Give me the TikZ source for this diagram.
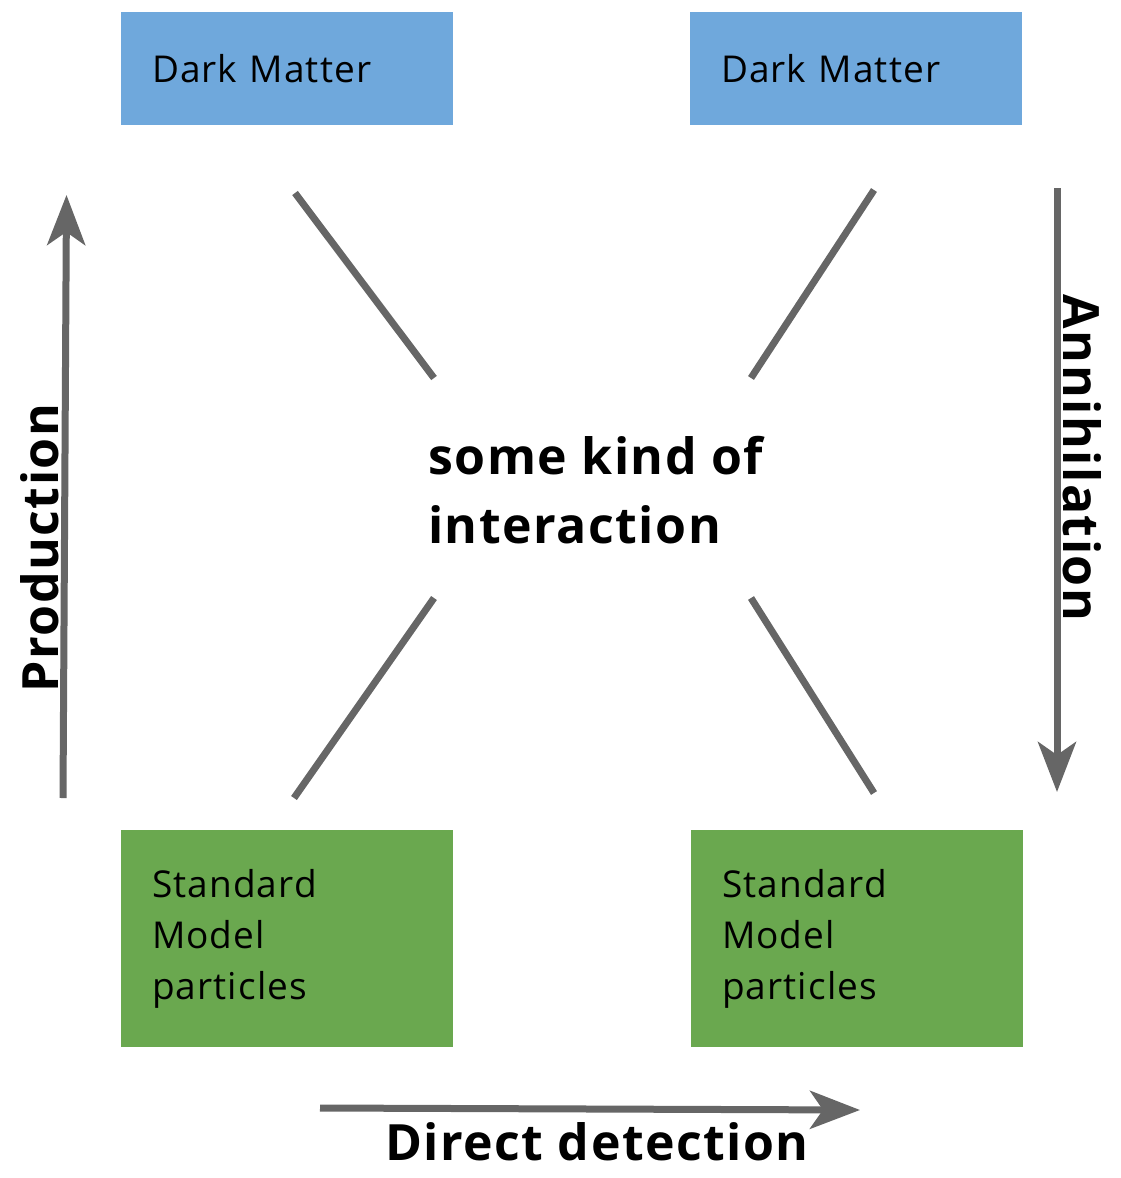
\documentclass[tikz,border=0pt]{standalone}
\usepackage{fontspec}
\setmainfont{Open Sans}[LetterSpace=3]
\usetikzlibrary{arrows.meta}
\definecolor{dmblue}{HTML}{6FA8DC}
\definecolor{smgreen}{HTML}{6AA84F}
\definecolor{linegray}{HTML}{666666}
\tikzset{
  box/.style={rectangle, draw=none, minimum width=332pt, inner xsep=31pt,
    text width=270pt, align=left, font=\fontsize{37}{51}\selectfont},
  dmbox/.style={box, fill=dmblue, minimum height=113pt},
  smbox/.style={box, fill=smgreen, minimum height=217pt},
  link/.style={draw=linegray, line width=7pt},
  flow/.style={draw=linegray, line width=7pt,
    -{Stealth[length=50pt, width=38pt, inset=13pt]}},
  biglabel/.style={font=\bfseries\fontsize{50}{69}\selectfont, inner sep=0pt}
}
\begin{document}
\begin{tikzpicture}[x=1pt, y=-1pt]
  \useasboundingbox (0,0) rectangle (1120,1178);

  % particle boxes
  \node[dmbox] (dmL) at (287,68.5) {Dark Matter};
  \node[dmbox] (dmR) at (856,68.5) {Dark Matter};
  \node[smbox] (smL) at (287,938.5) {Standard\\Model\\particles};
  \node[smbox] (smR) at (857,938.5) {Standard\\Model\\particles};

  % central vertex
  \node[biglabel, align=left, anchor=north west] (vertex) at (428,436)
    {some kind of\\interaction};

  % legs of the vertex
  \coordinate (a1) at (295,193); \coordinate (a2) at (434,378);
  \coordinate (b1) at (874,190); \coordinate (b2) at (751,378);
  \coordinate (c1) at (434,598); \coordinate (c2) at (294,798);
  \coordinate (d1) at (751,598); \coordinate (d2) at (874,793);
  \draw[link] (a1) -- (a2);
  \draw[link] (b1) -- (b2);
  \draw[link] (c1) -- (c2);
  \draw[link] (d1) -- (d2);

  % process arrows
  \coordinate (p1) at (63,798);  \coordinate (p2) at (66.5,195);
  \coordinate (n1) at (1057,188); \coordinate (n2) at (1057,792);
  \coordinate (e1) at (320,1108); \coordinate (e2) at (860,1110);
  \draw[flow] (p1) -- (p2);
  \draw[flow] (n1) -- (n2);
  \draw[flow] (e1) -- (e2);

  \node[biglabel, rotate=90, anchor=base] (prod) at (58,548) {Production};
  \node[biglabel, rotate=-90, anchor=base] (anni) at (1063,458) {Annihilation};
  \node[biglabel, anchor=base] (direct) at (597,1160) {Direct detection};
\end{tikzpicture}
\end{document}
